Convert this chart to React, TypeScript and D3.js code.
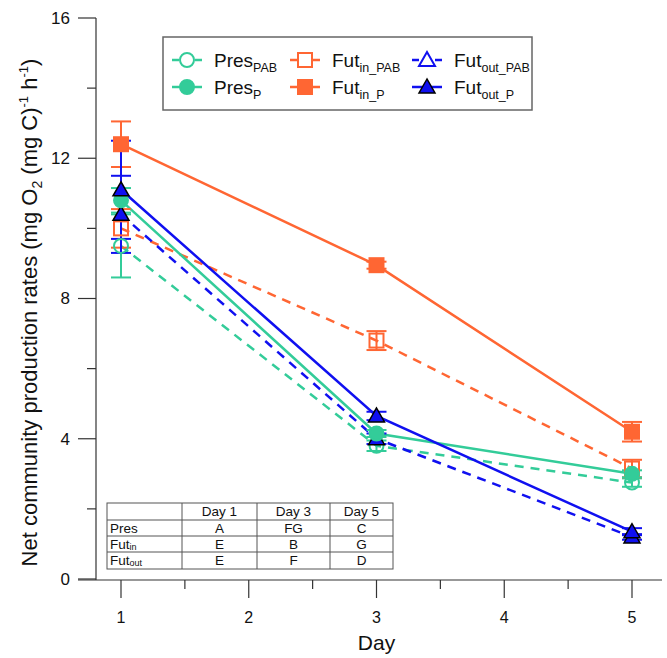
import React from "react";
import * as d3 from "d3";

const days = [1, 3, 5];
const presPAB = [9.5, 3.8, 2.75];
const presPABErr = [0.9, 0.15, 0.12];
const presP = [10.8, 4.15, 3.0];
const presPErr = [0.35, 0.1, 0.1];
const futInPAB = [10.0, 6.8, 3.15];
const futInPABErr = [0.55, 0.27, 0.25];
const futInP = [12.4, 8.95, 4.2];
const futInPErr = [0.65, 0.1, 0.28];
const futOutPAB = [10.4, 4.0, 1.2];
const futOutPABErr = [1.1, 0.15, 0.08];
const futOutP = [11.1, 4.65, 1.35];
const futOutPErr = [1.4, 0.12, 0.1];

const xTicks = [1, 2, 3, 4, 5];
const yTicks = [0, 4, 8, 12, 16];

const tableHeader = ["", "Day 1", "Day 3", "Day 5"];
const tableRowNames = [["Pres", ""], ["Fut", "in"], ["Fut", "out"]];
const tableRows = [["A", "FG", "C"], ["E", "B", "G"], ["E", "F", "D"]];

const GREEN = "#33CC99";
const ORANGE = "#FF6633";
const BLUE = "#1010F0";

type Series = {
  name: string;
  sub: string;
  values: number[];
  err: number[];
  color: string;
  dashed: boolean;
  marker: "circle" | "square" | "triangle";
  filled: boolean;
};

const series: Series[] = [
  { name: "Pres", sub: "PAB", values: presPAB, err: presPABErr, color: GREEN, dashed: true, marker: "circle", filled: false },
  { name: "Fut", sub: "in_PAB", values: futInPAB, err: futInPABErr, color: ORANGE, dashed: true, marker: "square", filled: false },
  { name: "Fut", sub: "out_PAB", values: futOutPAB, err: futOutPABErr, color: BLUE, dashed: true, marker: "triangle", filled: false },
  { name: "Pres", sub: "P", values: presP, err: presPErr, color: GREEN, dashed: false, marker: "circle", filled: true },
  { name: "Fut", sub: "in_P", values: futInP, err: futInPErr, color: ORANGE, dashed: false, marker: "square", filled: true },
  { name: "Fut", sub: "out_P", values: futOutP, err: futOutPErr, color: BLUE, dashed: false, marker: "triangle", filled: true },
];

const FONT = "'Liberation Sans', Arial, sans-serif";

function Marker({ s, cx, cy }: { s: Series; cx: number; cy: number }) {
  if (s.marker === "circle") {
    return (
      <circle cx={cx} cy={cy} r={7} fill={s.filled ? s.color : "white"} fillOpacity={s.filled ? 1 : 0}
        stroke={s.color} strokeWidth={2} />
    );
  }
  if (s.marker === "square") {
    const h = 7;
    return (
      <rect x={cx - h} y={cy - h} width={2 * h} height={2 * h} fill={s.filled ? s.color : "white"}
        fillOpacity={s.filled ? 1 : 0} stroke={s.color} strokeWidth={2} />
    );
  }
  const h = 8;
  const pts = `${cx},${cy - h} ${cx - h},${cy + h * 0.75} ${cx + h},${cy + h * 0.75}`;
  return (
    <polygon points={pts} fill={s.filled ? s.color : "white"} fillOpacity={s.filled ? 1 : 0}
      stroke={s.filled ? "black" : s.color} strokeWidth={s.filled ? 1.5 : 2} />
  );
}

export default function App() {
  const W = 667;
  const H = 658;
  const x = d3.scaleLinear().domain([1, 5]).range([121, 632]);
  const y = d3.scaleLinear().domain([0, 16]).range([579, 18]);
  const axisX = 96;
  const axisY = 580;
  const line = d3.line<number>().x((_, i) => x(days[i])).y((v) => y(v));

  const xMinor = d3.range(1.5, 5, 1);
  const yMinor = [2, 6, 10, 14];

  const legX = 163, legY = 37, legW = 369, legH = 73;
  const legCols = [187, 305, 427];
  const legRows = [60, 87];

  const tX = [107, 182, 257, 330, 393];
  const tY = [503, 520, 536, 552, 569];

  return (
    <svg width={W} height={H} style={{ display: "block", position: "absolute", left: 0, top: 0 }} fontFamily={FONT}>
      <rect width={W} height={H} fill="white" />
      {/* y axis */}
      <line x1={axisX} y1={y(16)} x2={axisX} y2={axisY} stroke="#333" strokeWidth={1.2} />
      {yTicks.map((t) => (
        <g key={t}>
          <line x1={78} x2={axisX} y1={y(t)} y2={y(t)} stroke="#333" strokeWidth={1.2} />
          <text x={70} y={y(t)} dy="0.35em" textAnchor="end" fontSize={17} fill="#111">{t}</text>
        </g>
      ))}
      {yMinor.map((t) => (
        <line key={t} x1={87} x2={axisX} y1={y(t)} y2={y(t)} stroke="#333" strokeWidth={1.2} />
      ))}
      {/* x axis */}
      <line x1={78} x2={662} y1={axisY} y2={axisY} stroke="#333" strokeWidth={1.2} />
      {xTicks.map((t) => (
        <g key={t}>
          <line x1={x(t)} x2={x(t)} y1={axisY} y2={axisY + 18} stroke="#333" strokeWidth={1.2} />
          <text x={x(t)} y={617} dy="0.35em" textAnchor="middle" fontSize={16} fill="#111">{t}</text>
        </g>
      ))}
      {xMinor.map((t) => (
        <line key={t} x1={x(t)} x2={x(t)} y1={axisY} y2={axisY + 9} stroke="#333" strokeWidth={1.2} />
      ))}
      <text x={x(3)} y={650} textAnchor="middle" fontSize={21} fill="#111">Day</text>
      <text transform={`translate(37, ${y(7.6)}) rotate(-90)`} textAnchor="middle" fontSize={22} fill="#111">
        Net community production rates (mg O
        <tspan fontSize={14} dy={5}>2</tspan>
        <tspan dy={-5}> (mg C)</tspan>
        <tspan fontSize={13} dy={-9}>-1</tspan>
        <tspan dy={9}> h</tspan>
        <tspan fontSize={13} dy={-9}>-1</tspan>
        <tspan dy={9}>)</tspan>
      </text>

      {/* table */}
      <g fontSize={13.5} fill="#111">
        <rect x={tX[0]} y={tY[0]} width={tX[4] - tX[0]} height={tY[4] - tY[0]} fill="white" stroke="#555" strokeWidth={1} />
        {tY.slice(1, 4).map((yy, i) => (
          <line key={i} x1={tX[0]} x2={tX[4]} y1={yy} y2={yy} stroke="#555" strokeWidth={1} />
        ))}
        {tX.slice(1, 4).map((xx, i) => (
          <line key={i} x1={xx} x2={xx} y1={tY[0]} y2={tY[4]} stroke="#555" strokeWidth={1} />
        ))}
        {tableHeader.map((h, j) => (
          <text key={j} x={(tX[j] + tX[j + 1]) / 2} y={(tY[0] + tY[1]) / 2} dy="0.36em" textAnchor="middle">{h}</text>
        ))}
        {tableRowNames.map((rn, i) => (
          <text key={i} x={tX[0] + 3} y={(tY[i + 1] + tY[i + 2]) / 2} dy="0.36em">
            {rn[0]}
            {rn[1] && <tspan fontSize={9} dy={1}>{rn[1]}</tspan>}
          </text>
        ))}
        {tableRows.map((row, i) =>
          row.map((c, j) => (
            <text key={`${i}-${j}`} x={(tX[j + 1] + tX[j + 2]) / 2} y={(tY[i + 1] + tY[i + 2]) / 2} dy="0.36em" textAnchor="middle">{c}</text>
          ))
        )}
      </g>

      {/* series lines */}
      {series.map((s, si) => (
        <path key={si} d={line(s.values) || ""} fill="none" stroke={s.color} strokeWidth={2.5}
          strokeDasharray={s.dashed ? "9,7" : undefined} />
      ))}
      {/* error bars */}
      {series.map((s, si) => (
        <g key={si} stroke={s.color} strokeWidth={2}>
          {s.values.map((v, i) => {
            const cx = x(days[i]);
            const y1 = y(v + s.err[i]);
            const y2 = y(v - s.err[i]);
            return (
              <g key={i}>
                <line x1={cx} x2={cx} y1={y1} y2={y2} />
                <line x1={cx - 10} x2={cx + 10} y1={y1} y2={y1} />
                <line x1={cx - 10} x2={cx + 10} y1={y2} y2={y2} />
              </g>
            );
          })}
        </g>
      ))}
      {/* markers */}
      {series.map((s, si) => (
        <g key={si}>
          {s.values.map((v, i) => (
            <Marker key={i} s={s.marker === "triangle" && !s.filled ? { ...s, filled: true } : s} cx={x(days[i])} cy={y(v)} />
          ))}
        </g>
      ))}

      {/* legend */}
      <rect x={legX} y={legY} width={legW} height={legH} fill="white" stroke="#666" strokeWidth={1.5} />
      {series.map((s, idx) => {
        const col = idx % 3;
        const row = Math.floor(idx / 3);
        const cx = legCols[col];
        const cy = legRows[row];
        return (
          <g key={idx}>
            {s.dashed ? (
              <g stroke={s.color} strokeWidth={2.5}>
                <line x1={cx - 15} x2={cx - 8} y1={cy} y2={cy} />
                <line x1={cx + 8} x2={cx + 15} y1={cy} y2={cy} />
              </g>
            ) : (
              <line x1={cx - 15} x2={cx + 15} y1={cy} y2={cy} stroke={s.color} strokeWidth={2.5} />
            )}
            <Marker s={s} cx={cx} cy={cy} />
            <text x={cx + 27} y={cy} dy="0.35em" fontSize={19} fill="#111">
              {s.name}
              <tspan fontSize={12.5} dy={5}>{s.sub}</tspan>
            </text>
          </g>
        );
      })}
    </svg>
  );
}
